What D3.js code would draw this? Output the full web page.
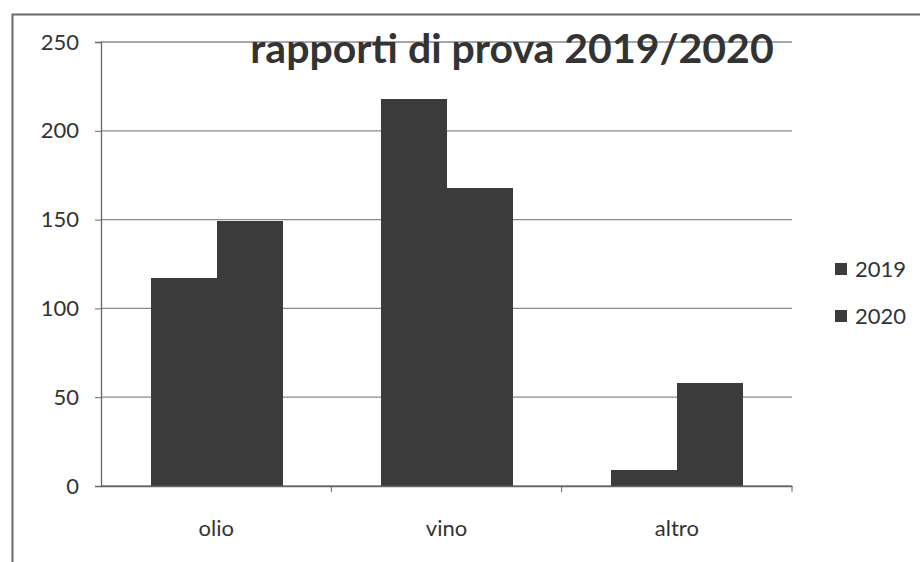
<!DOCTYPE html>
<html>
<head>
<meta charset="utf-8">
<script src="https://cdn.jsdelivr.net/npm/d3@7"></script>
<style>
  body { margin: 0; background: #fff; }
  text { font-family: Lato, "Open Sans", sans-serif; fill: #333; }
</style>
</head>
<body>
<svg id="chart" width="920" height="562"></svg>
<script>
// chart data
var categories = ["olio", "vino", "altro"];
var years = ["2019", "2020"];
var values2019 = [117, 218, 9];
var values2020 = [149, 168, 58];
var yTicks = [0, 50, 100, 150, 200, 250];

var svg = d3.select("#chart");
var margin = { top: 42, left: 101, right: 128, bottom: 76 };
var width = 920 - margin.left - margin.right;
var height = 562 - margin.top - margin.bottom;

// outer frame
svg.append("rect")
  .attr("x", 12.5).attr("y", 14.5)
  .attr("width", 920).attr("height", 600)
  .attr("fill", "none")
  .attr("stroke", "#6a6a6a")
  .attr("stroke-width", 2);

var g = svg.append("g")
  .attr("transform", "translate(" + margin.left + "," + margin.top + ")");

var x = d3.scaleBand().domain(categories).range([0, width]).paddingInner(0).paddingOuter(0);
var xs = d3.scaleBand().domain(years).range([0, 131]);
var y = d3.scaleLinear().domain([0, 250]).range([height, 0]);

// gridlines
g.append("g")
  .selectAll("line")
  .data(yTicks)
  .join("line")
    .attr("x1", 0).attr("x2", width)
    .attr("y1", d => y(d)).attr("y2", d => y(d))
    .attr("stroke", "#8a8a8a")
    .attr("stroke-width", 1.3);

// bars
var rows = categories.map((c, i) => ({ cat: c, vals: [values2019[i], values2020[i]] }));
var groups = g.selectAll(".grp")
  .data(rows)
  .join("g")
    .attr("class", "grp")
    .attr("transform", d => "translate(" + Math.round(x(d.cat) + (x.bandwidth() - 131) / 2) + ",0)");

groups.selectAll("rect")
  .data(d => d.vals.map((v, j) => ({ year: years[j], v: v })))
  .join("rect")
    .attr("x", d => xs(d.year))
    .attr("width", xs.bandwidth() + 0.5)
    .attr("y", d => y(d.v))
    .attr("height", d => height - y(d.v))
    .attr("fill", "#3b3b3b")
    .attr("shape-rendering", "crispEdges");

// y axis
var yAxis = g.append("g")
  .call(d3.axisLeft(y).tickValues(yTicks).tickSize(6).tickPadding(16));
yAxis.select(".domain").attr("stroke", "#666").attr("stroke-width", 1.3);
yAxis.selectAll(".tick line").attr("stroke", "#666");
yAxis.selectAll("text").style("font-size", "22px").attr("fill", "#333");

// x axis
var xAxis = g.append("g")
  .attr("transform", "translate(0," + height + ")")
  .call(d3.axisBottom(x).tickSize(0).tickPadding(34));
xAxis.select(".domain").attr("stroke", "#666").attr("stroke-width", 1.3);
xAxis.selectAll("text").style("font-size", "22px").attr("fill", "#333");
g.append("g")
  .selectAll("line")
  .data(categories)
  .join("line")
    .attr("x1", d => x(d) + x.bandwidth()).attr("x2", d => x(d) + x.bandwidth())
    .attr("y1", height).attr("y2", height + 6)
    .attr("stroke", "#666");

// title
svg.append("text")
  .attr("x", 512).attr("y", 63)
  .attr("text-anchor", "middle")
  .style("font-size", "41px")
  .style("font-weight", "bold")
  .attr("fill", "#1a1a1a")
  .text("rapporti di prova 2019/2020");

// legend
var legend = svg.append("g").attr("transform", "translate(835,263)");
var li = legend.selectAll("g")
  .data(years)
  .join("g")
    .attr("transform", (d, i) => "translate(0," + i * 47 + ")");
li.append("rect").attr("width", 12).attr("height", 12).attr("fill", "#3b3b3b");
li.append("text")
  .attr("x", 20).attr("y", 14)
  .style("font-size", "22px")
  .text(d => d);
</script>
</body>
</html>
